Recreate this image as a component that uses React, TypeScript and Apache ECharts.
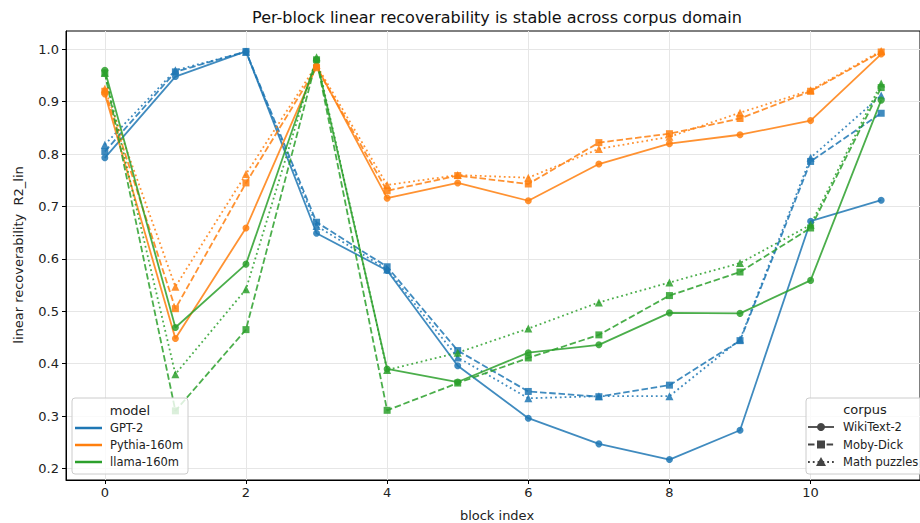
import React, { useEffect, useRef } from "react";
import * as echarts from "echarts";

const blocks = [0, 1, 2, 3, 4, 5, 6, 7, 8, 9, 10, 11];
const models = ["GPT-2", "Pythia-160m", "llama-160m"];
const corpora = ["WikiText-2", "Moby-Dick", "Math puzzles"];
const xTicks = [0, 2, 4, 6, 8, 10];
const yTicks = [0.2, 0.3, 0.4, 0.5, 0.6, 0.7, 0.8, 0.9, 1.0];

const gpt2Wiki = [0.793, 0.948, 0.996, 0.649, 0.578, 0.396, 0.296, 0.247, 0.217, 0.273, 0.672, 0.712];
const gpt2Moby = [0.805, 0.957, 0.996, 0.67, 0.585, 0.425, 0.347, 0.337, 0.359, 0.444, 0.786, 0.878];
const gpt2Math = [0.818, 0.96, 0.995, 0.663, 0.58, 0.412, 0.334, 0.338, 0.338, 0.446, 0.793, 0.912];

const pythiaWiki = [0.915, 0.448, 0.659, 0.968, 0.716, 0.745, 0.711, 0.781, 0.82, 0.837, 0.864, 0.991];
const pythiaMoby = [0.92, 0.505, 0.745, 0.965, 0.73, 0.759, 0.743, 0.822, 0.839, 0.868, 0.92, 0.995];
const pythiaMath = [0.925, 0.547, 0.762, 0.97, 0.741, 0.76, 0.755, 0.81, 0.833, 0.879, 0.922, 0.997];

const llamaWiki = [0.96, 0.469, 0.59, 0.98, 0.39, 0.365, 0.421, 0.436, 0.497, 0.496, 0.559, 0.903];
const llamaMoby = [0.955, 0.31, 0.465, 0.98, 0.311, 0.363, 0.411, 0.455, 0.53, 0.575, 0.659, 0.927];
const llamaMath = [0.955, 0.38, 0.542, 0.985, 0.388, 0.421, 0.467, 0.517, 0.555, 0.592, 0.665, 0.935];

const colors = ["#1f77b4", "#ff7f0e", "#2ca02c"];
const symbols = ["circle", "rect", "triangle"];
const dashes: any[] = ["solid", [6.5, 2.8], [1.8, 3]];
const values = [
  [gpt2Wiki, gpt2Moby, gpt2Math],
  [pythiaWiki, pythiaMoby, pythiaMath],
  [llamaWiki, llamaMoby, llamaMath],
];

const FONT = "DejaVu Sans";

export default function App() {
  const ref = useRef<HTMLDivElement>(null);
  useEffect(() => {
    document.body.style.margin = "0";
    const chart = echarts.init(ref.current!, null, { renderer: "svg" });
    const series: any[] = [];
    models.forEach((m, mi) => {
      corpora.forEach((c, ci) => {
        series.push({
          name: m + " / " + c,
          type: "line",
          data: blocks.map((b, i) => [b, values[mi][ci][i]]),
          symbol: symbols[ci],
          symbolSize: ci === 2 ? 8 : 7,
          showSymbol: true,
          lineStyle: { color: colors[mi], width: 1.8, type: dashes[ci], opacity: 0.85 },
          itemStyle: { color: colors[mi], opacity: 0.85 },
          z: 2,
        });
      });
    });

    const legendText = { fill: "#222", fontFamily: FONT, fontSize: 11.5 };
    const modelLegend: any = {
      type: "group",
      z: 100,
      children: [
        { type: "rect", z: 100, shape: { x: 72, y: 398, width: 116, height: 76, r: 3 }, style: { fill: "rgba(255,255,255,0.8)", stroke: "#cccccc", lineWidth: 1 } },
        { type: "text", z: 101, style: { text: "model", x: 130, y: 410, align: "center", verticalAlign: "middle", fontFamily: FONT, fontSize: 13, fill: "#222" } },
        ...models.flatMap((m, i) => [
          { type: "line", z: 101, shape: { x1: 75, y1: 428 + i * 17, x2: 102, y2: 428 + i * 17 }, style: { stroke: colors[i], lineWidth: 2.5 } },
          { type: "text", z: 101, style: { ...legendText, text: m, x: 110, y: 428 + i * 17, verticalAlign: "middle" } },
        ]),
      ],
    };
    const cx = 821;
    const corpusLegend: any = {
      type: "group",
      z: 100,
      children: [
        { type: "rect", z: 100, shape: { x: 806, y: 398, width: 130, height: 76, r: 3 }, style: { fill: "rgba(255,255,255,0.8)", stroke: "#cccccc", lineWidth: 1 } },
        { type: "text", z: 101, style: { text: "corpus", x: 865, y: 409, align: "center", verticalAlign: "middle", fontFamily: FONT, fontSize: 13, fill: "#222" } },
        ...corpora.map((c, i) => ({ type: "line", z: 101, shape: { x1: 808, y1: 427 + i * 17.5, x2: 834, y2: 427 + i * 17.5 }, style: { stroke: "#444", lineWidth: 1.8, lineDash: i === 0 ? null : dashes[i] } })),
        { type: "circle", z: 101, shape: { cx, cy: 427, r: 4 }, style: { fill: "#444" } },
        { type: "rect", z: 101, shape: { x: cx - 4, y: 444.5 - 4, width: 8, height: 8 }, style: { fill: "#444" } },
        { type: "polygon", z: 101, shape: { points: [[cx, 462 - 5], [cx + 5, 462 + 4], [cx - 5, 462 + 4]] }, style: { fill: "#444" } },
        ...corpora.map((c, i) => ({ type: "text", z: 101, style: { ...legendText, text: c, x: 843, y: 427 + i * 17.5, verticalAlign: "middle" } })),
      ],
    };

    chart.setOption({
      animation: false,
      backgroundColor: "#ffffff",
      textStyle: { fontFamily: FONT },
      grid: { left: 66, top: 31, width: 865, height: 449, show: true, borderColor: "#000", borderWidth: 1, backgroundColor: "transparent", containLabel: false },
      xAxis: {
        type: "value",
        min: -0.55,
        max: 11.55,
        axisLine: { show: true, onZero: false, lineStyle: { color: "#000", width: 1 } },
        axisTick: { show: true, length: 4, lineStyle: { color: "#000" }, customValues: xTicks },
        axisLabel: { color: "#222", fontSize: 13, fontFamily: FONT, margin: 6, customValues: xTicks },
        splitLine: { show: true, lineStyle: { color: "#e6e6e6", width: 1 } },
      },
      yAxis: {
        type: "value",
        min: 0.178,
        max: 1.035,
        axisLine: { show: true, onZero: false, lineStyle: { color: "#000", width: 1 } },
        axisTick: { show: true, length: 4, lineStyle: { color: "#000" }, customValues: yTicks },
        axisLabel: { color: "#222", fontSize: 13, fontFamily: FONT, margin: 7, customValues: yTicks, formatter: (v: number) => v.toFixed(1) },
        splitLine: { show: true, lineStyle: { color: "#e6e6e6", width: 1 } },
      },
      series,
      graphic: [
        { type: "text", style: { text: "Per-block linear recoverability is stable across corpus domain", x: 497, y: 17, align: "center", verticalAlign: "middle", fontFamily: FONT, fontSize: 16, fill: "#111" } },
        { type: "text", style: { text: "block index", x: 497, y: 515, align: "center", verticalAlign: "middle", fontFamily: FONT, fontSize: 13, fill: "#222" } },
        { type: "text", x: 18, y: 255, rotation: Math.PI / 2, style: { text: "linear recoverability  R2_lin", x: 0, y: 0, align: "center", verticalAlign: "middle", fontFamily: FONT, fontSize: 13, fill: "#222" } },
        modelLegend,
        corpusLegend,
      ],
    });
    return () => chart.dispose();
  }, []);
  return <div ref={ref} style={{ width: 920, height: 523 }} />;
}
